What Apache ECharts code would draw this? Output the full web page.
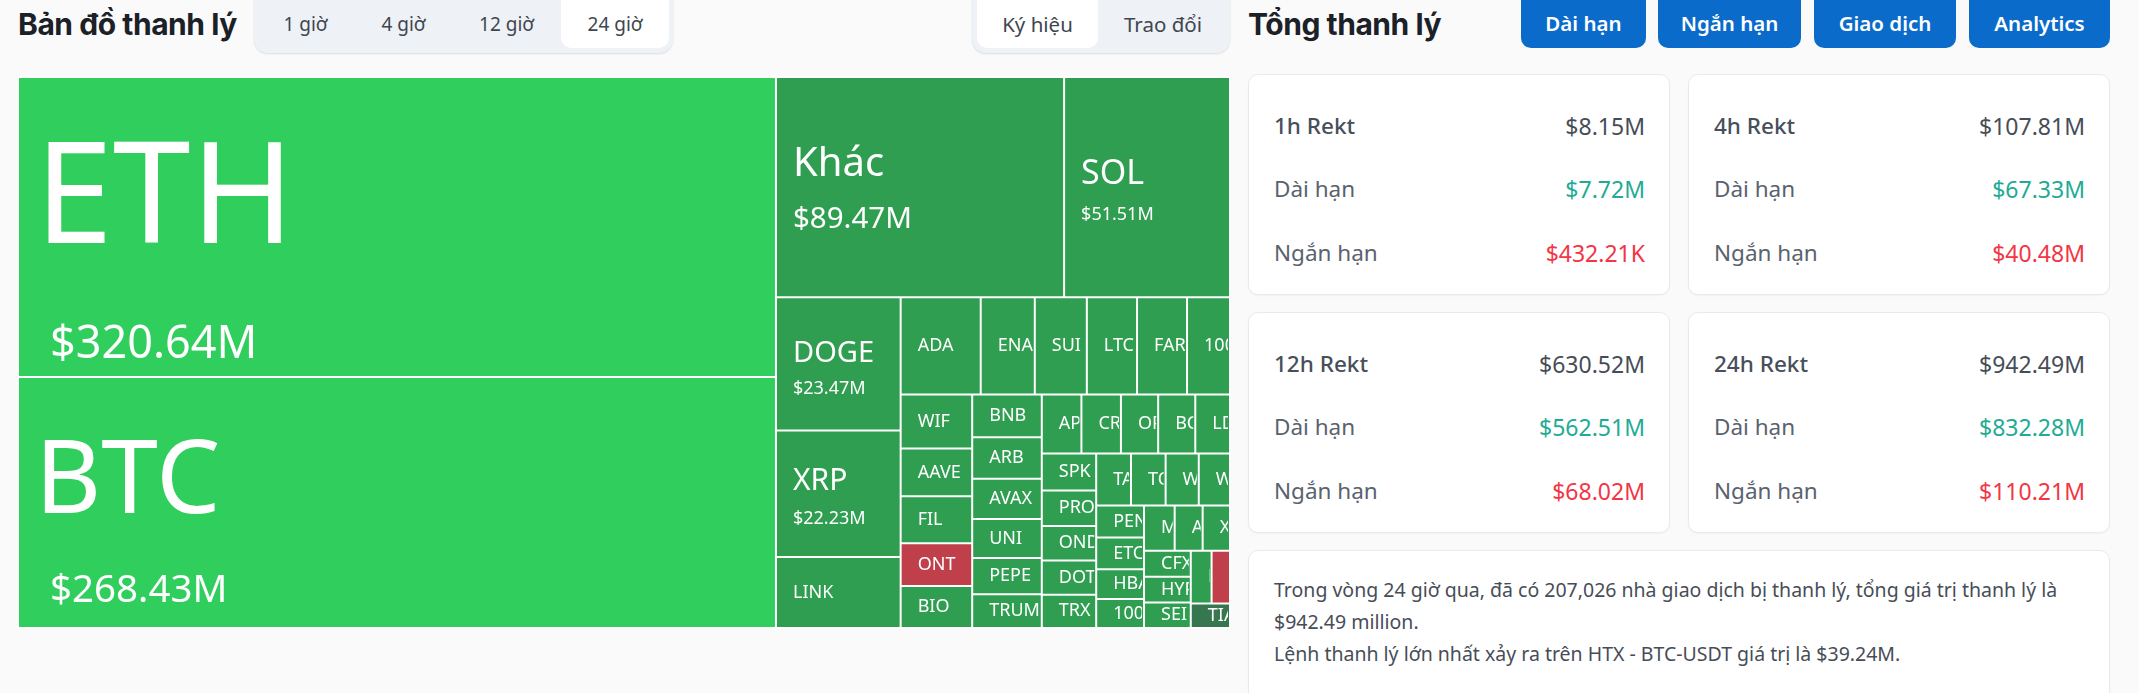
<!DOCTYPE html>
<html>
<head>
<meta charset="utf-8">
<title>Bản đồ thanh lý</title>
<script src="https://cdn.jsdelivr.net/npm/echarts@6/dist/echarts.min.js"></script>
<style>
html,body{margin:0;padding:0;background:#fafafa;overflow:hidden;width:2139px;height:693px;font-family:"Noto Sans",sans-serif;color:#1e2329;}
.abs{position:absolute;white-space:nowrap;}
.title{font-family:Inter,sans-serif;font-weight:700;font-size:30px;letter-spacing:-0.45px;color:#1c2128;line-height:36px;}
.tabs{background:#eef1f5;border-radius:0 0 14px 14px;box-shadow:0 1px 2px rgba(0,0,0,.12);}
.tab{font-size:19px;color:#3f4650;text-align:center;line-height:48px;height:48px;}
.tab.wide{font-size:20.5px;}
.tab.on{background:#fff;border-radius:0 0 10px 10px;}
.btn{background:#0b6bcb;color:#fff;border-radius:0 0 10px 10px;height:48px;line-height:46px;text-align:center;font-size:20.5px;font-weight:600;}
.card{background:#fff;border:1px solid #e8eaed;border-radius:10px;box-sizing:border-box;box-shadow:0 1px 2px rgba(0,0,0,.04);}
.lab{font-size:22.5px;color:#5a626e;line-height:30px;}
.lab.head{font-weight:500;color:#474f5c;}
.val{font-size:23px;line-height:30px;text-align:right;}
.note{font-size:19.5px;color:#474d57;line-height:32px;}
#chart{position:absolute;left:17px;top:76px;width:1214px;height:553px;}
</style>
</head>
<body>
<div id="chart"></div>
<script>
// treemap cells, largest first (value in $M)
var coinNames = ['ETH','BTC','Khác','SOL','DOGE','XRP','LINK','ADA','ENA','SUI','LTC','FARTCOIN','1000PEPE',
	'WIF','AAVE','FIL','ONT','BIO','BNB','ARB','AVAX','UNI','PEPE','TRUMP','APT','CRV','OP','BCH','LDO',
	'SPK','PROMPT','ONDO','DOT','TRX','TAO','TON','WLD','WCT','PENGU','ETC','HBAR','1000BONK','MKR','APE','XLM',
	'CFX','HYPE','SEI','NEAR','CAKE','TIA'];
var coinValues = [320.64,268.43,89.47,51.51,23.47,22.23,12.49,11.0,7.43,7.15,6.9,6.87,5.9,
	5.44,4.83,4.73,4.33,4.23,4.2,4.07,3.94,3.84,3.55,3.31,3.3,3.29,3.1,3.09,2.89,
	2.83,2.73,2.64,2.63,2.56,2.55,2.54,2.43,2.29,2.16,2.14,2.0,1.96,1.95,1.78,1.74,
	1.72,1.70,1.68,1.55,1.37,1.36];
var shownAmounts = {ETH:'$320.64M',BTC:'$268.43M','Khác':'$89.47M',SOL:'$51.51M',DOGE:'$23.47M',XRP:'$22.23M'};
var redCoins = ['ONT','CAKE'];
var darkCoins = ['TIA'];
var brightCoins = ['ETH','BTC'];

var periodTabs = ['1 giờ','4 giờ','12 giờ','24 giờ'];
var sortTabs = ['Ký hiệu','Trao đổi'];
var sideButtons = ['Dài hạn','Ngắn hạn','Giao dịch','Analytics'];
var rektPeriods = ['1h Rekt','4h Rekt','12h Rekt','24h Rekt'];
var rektTotal = ['$8.15M','$107.81M','$630.52M','$942.49M'];
var rektLong = ['$7.72M','$67.33M','$562.51M','$832.28M'];
var rektShort = ['$432.21K','$40.48M','$68.02M','$110.21M'];
var noteLines = ['Trong vòng 24 giờ qua, đã có 207,026 nhà giao dịch bị thanh lý, tổng giá trị thanh lý là','$942.49 million.','Lệnh thanh lý lớn nhất xảy ra trên HTX - BTC-USDT giá trị là $39.24M.'];

function put(cls,text,l,t,w,h){
	var d = document.createElement('div');
	d.className = 'abs '+cls;
	d.textContent = text;
	d.style.left = l+'px';
	d.style.top = t+'px';
	if(w) d.style.width = w+'px';
	if(h) d.style.height = h+'px';
	document.body.appendChild(d);
	return d;
}

put('title','Bản đồ thanh lý',18,6);
put('tabs','',254,-4,419,57);
var tabX = [256,355,452,561], tabW = [99,97,109,108];
for(var i = 0;i<periodTabs.length;i++){
	put('tab'+(i==3?' on':''),periodTabs[i],tabX[i],0,tabW[i]);
}
put('tabs','',972,-4,258,57);
put('tab wide on',sortTabs[0],977,0,121);
put('tab wide',sortTabs[1],1100,0,126);
put('title','Tổng thanh lý',1248,6);
var btnX = [1521,1658,1814,1969], btnW = [125,143,142,141];
for(var i = 0;i<sideButtons.length;i++){
	put('btn',sideButtons[i],btnX[i],0,btnW[i]);
}

var cardX = [1248,1688,1248,1688], cardY = [74,74,312,312];
for(var i = 0;i<rektPeriods.length;i++){
	var x = cardX[i], y = cardY[i];
	put('card','',x,y,422,221);
	put('lab head',rektPeriods[i],x+26,y+37);
	put('lab','Dài hạn',x+26,y+100);
	put('lab','Ngắn hạn',x+26,y+164);
	put('val',rektTotal[i],x+180,y+37,217).style.color = '#474d57';
	put('val',rektLong[i],x+180,y+100,217).style.color = '#22ab94';
	put('val',rektShort[i],x+180,y+164,217).style.color = '#f23645';
}
put('card','',1248,550,862,180);
for(var i = 0;i<noteLines.length;i++){
	put('note',noteLines[i],1274,574+i*32);
}

// big labels: [name size, value size, name line, value line, label left, value extra left]
var bigLabels = {
	ETH:[140,45,236,48,16,15],
	BTC:[102,38.5,178,38,16,15],
	'Khác':[40,29.5,65,45,16,0],
	SOL:[34,18,55,25,16,0],
	DOGE:[29,18,51,21,16,0],
	XRP:[30,18,51,24,16,0]
};

function fillColor(name){
	if(brightCoins.indexOf(name)>=0) return '#30ce5c';
	if(redCoins.indexOf(name)>=0) return '#bf3f4a';
	if(darkCoins.indexOf(name)>=0) return '#377750';
	return '#2f9e51';
}

var cells = [], richStyles = {small:{fontSize:18,color:'#fff',fontFamily:'Noto Sans'}};
for(var i = 0;i<coinNames.length;i++){
	var nm = coinNames[i];
	var cell = {name:nm,value:coinValues[i],itemStyle:{color:fillColor(nm)}};
	if(bigLabels[nm]){
		var b = bigLabels[nm];
		cell.label = {padding:[0,0,0,b[4]]};
		richStyles['n'+i] = {fontSize:b[0],lineHeight:b[2],color:'#fff',fontFamily:'Noto Sans'};
		richStyles['v'+i] = {fontSize:b[1],lineHeight:b[3],color:'#fff',padding:[0,0,0,b[5]],fontFamily:'Noto Sans'};
	}
	cells.push(cell);
}

var myChart = echarts.init(document.getElementById('chart'));
myChart.setOption({
	animation:false,
	series:[{
		type:'treemap',
		left:0,top:0,right:0,bottom:0,
		roam:false,
		nodeClick:false,
		breadcrumb:{show:false},
		itemStyle:{borderWidth:1,borderColor:'rgba(255,255,255,0.78)',gapWidth:0},
		label:{
			show:true,
			position:'insideLeft',
			align:'left',
			verticalAlign:'middle',
			distance:0,
			padding:[0,0,0,16],
			overflow:'none',
			lineOverflow:'none',
			rich:richStyles,
			formatter:function(p){
				var nm = p.name;
				if(shownAmounts[nm]){
					var k = coinNames.indexOf(nm);
					return '{n'+k+'|'+nm+'}\n{v'+k+'|'+shownAmounts[nm]+'}';
				}
				return '{small|'+nm+'}';
			}
		},
		data:cells
	}]
});

// labels sit in the middle of the cell and long names get cut at its edge, like the original
function fixLabels(){
	var zr = myChart.getZr();
	var list = zr.storage.getDisplayList(true);
	var rects = [];
	for(var i = 0;i<list.length;i++){
		var el = list[i];
		var txt = el.getTextContent && el.getTextContent();
		if(!txt || !el.shape) continue;
		txt.beforeUpdate = function(){};
		txt.setStyle({height:null,width:null});
		el.markRedraw();
		rects.push(el);
	}
	zr.storage.getDisplayList(true);
	for(var j = 0;j<rects.length;j++){
		var r = rects[j], t = r.getTextContent();
		var p = r.transformCoordToGlobal(0,0);
		t.setClipPath(new echarts.graphic.Rect({
			shape:{x:p[0]-t.transform[4],y:p[1]-t.transform[5],width:r.shape.width,height:r.shape.height}
		}));
	}
	zr.refresh();
}
fixLabels();
</script>
</body>
</html>
